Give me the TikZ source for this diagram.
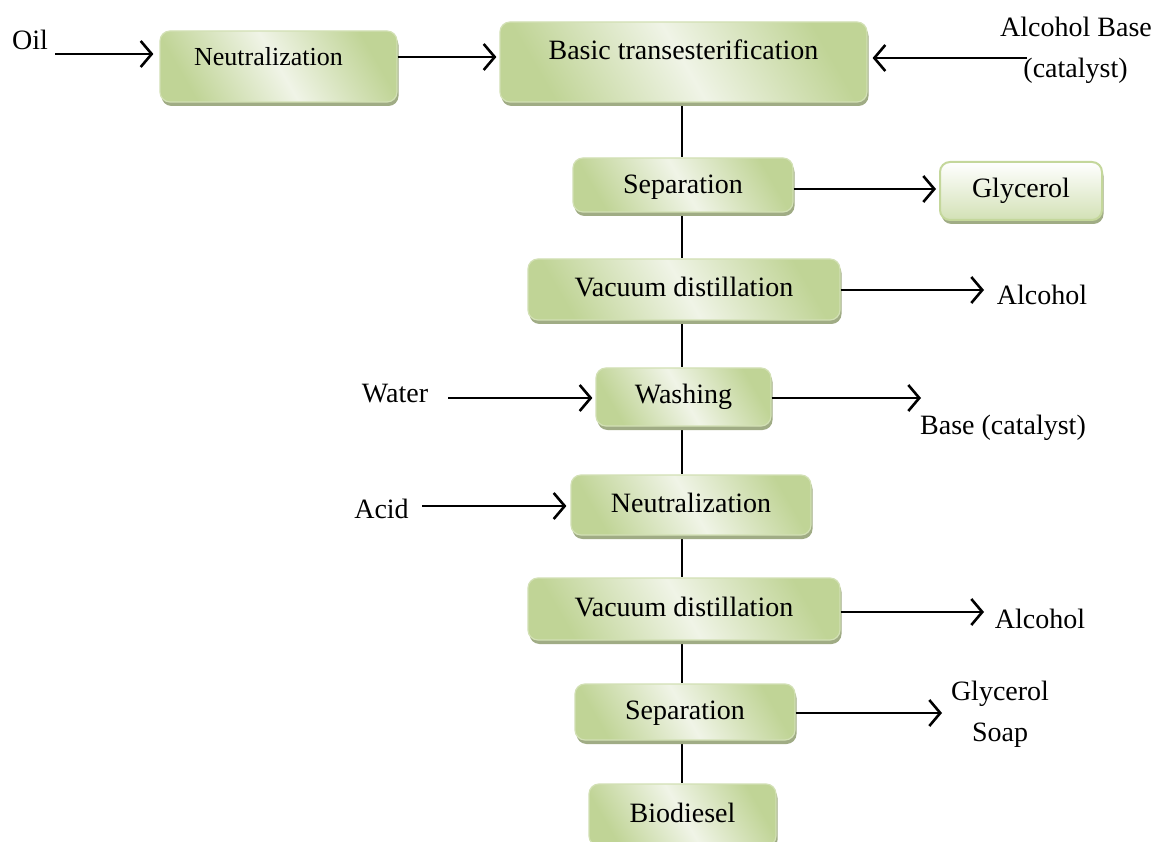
\documentclass[tikz,border=0pt]{standalone}
\usepackage{fontspec}
\setmainfont{Liberation Serif}
\usetikzlibrary{shadows,arrows.meta,backgrounds}
\definecolor{gdark}{RGB}{192,212,150}
\definecolor{glight}{RGB}{240,244,231}
\definecolor{gborder}{RGB}{210,224,180}
\definecolor{gshadow}{RGB}{160,172,133}
\definecolor{gboxline}{RGB}{196,215,155}
\tikzset{
  stepbox/.style={draw=gborder, line width=1.2pt, rounded corners=10pt,
    left color=gdark, right color=gdark, middle color=glight, shading angle=120,
    drop shadow={shadow xshift=1.5pt, shadow yshift=-4pt, fill=gshadow, opacity=1},
    font=\fontsize{28}{32}\selectfont, inner sep=0pt, text height=20pt, text depth=6pt},
  outbox/.style={draw=gboxline, line width=2pt, rounded corners=10pt,
    top color=white, bottom color=gdark!70!white,
    drop shadow={shadow xshift=1.5pt, shadow yshift=-4pt, fill=gshadow, opacity=1},
    font=\fontsize{28}{32}\selectfont, inner sep=0pt, text height=20pt, text depth=6pt},
  lbl/.style={font=\fontsize{28}{32}\selectfont, inner sep=0pt, text height=18.5pt, text depth=0pt},
  arr/.style={line width=2.6pt, -{Straight Barb[length=11pt,width=26pt,line width=2.6pt]}, shorten >=3pt},
  spineline/.style={line width=1.8pt},
}
\begin{document}
\begin{tikzpicture}[x=1pt,y=-1pt]
\clip (0,0) rectangle (1152,842);

% process boxes
\node[stepbox, minimum width=237pt, minimum height=71pt, font=\fontsize{26}{30}\selectfont, text height=18.5pt, text depth=20.3pt] (n1) at (278.5,66.5) {Neutralization\hspace*{20pt}};
\node[stepbox, minimum width=367pt, minimum height=80pt, text height=20pt, text depth=25.4pt] (bt) at (683.5,62) {Basic transesterification};
\node[stepbox, minimum width=220pt, minimum height=54pt, text depth=3pt] (sep1) at (683,185) {Separation};
\node[outbox, minimum width=162pt, minimum height=58pt] (gly) at (1021,191) {Glycerol};
\node[stepbox, minimum width=312pt, minimum height=61pt] (vd1) at (684,289.5) {Vacuum distillation};
\node[stepbox, minimum width=175pt, minimum height=58pt] (wash) at (683.5,397) {Washing};
\node[stepbox, minimum width=240pt, minimum height=60pt] (n2) at (691,505) {Neutralization};
\node[stepbox, minimum width=312pt, minimum height=62pt] (vd2) at (684,609) {Vacuum distillation};
\node[stepbox, minimum width=220pt, minimum height=56pt] (sep2) at (685,712) {Separation};
\node[stepbox, minimum width=187pt, minimum height=62pt] (bio) at (682.5,815) {Biodiesel};

% free labels
\node[lbl] (oil) at (30,40) {Oil};
\node[lbl] (ab1) at (1076,27) {Alcohol Base};
\node[lbl] (ab2) at (1075.5,68) {(catalyst)};
\node[lbl] (alc1) at (1042,295) {Alcohol};
\node[lbl] (water) at (395,393) {Water};
\node[lbl] (base) at (1003,425) {Base (catalyst)};
\node[lbl] (acid) at (381.5,509) {Acid};
\node[lbl] (alc2) at (1040,619) {Alcohol};
\node[lbl] (gs1) at (1000,691) {Glycerol};
\node[lbl] (gs2) at (1000,732) {Soap};

% free ends of connectors
\coordinate (sp) at (682,0);
\coordinate (oilS) at (55,54);
\coordinate (abS) at (1027,58);
\coordinate (waterS) at (448,398);
\coordinate (acidS) at (422,506);
\coordinate (a1E) at (984,290);
\coordinate (baseE) at (921,398);
\coordinate (a2E) at (984,612);
\coordinate (gsE) at (942,713);
\coordinate (y57) at (0,57);
\coordinate (y189) at (0,189);

% spine
\begin{scope}[on background layer]
\fill[white] (0,0) rectangle (1152,842);
\draw[spineline] (bt.south -| sp) -- (sep1.north -| sp);
\draw[spineline] (sep1.south -| sp) -- (vd1.north -| sp);
\draw[spineline] (vd1.south -| sp) -- (wash.north -| sp);
\draw[spineline] (wash.south -| sp) -- (n2.north -| sp);
\draw[spineline] (n2.south -| sp) -- (vd2.north -| sp);
\draw[spineline] (vd2.south -| sp) -- (sep2.north -| sp);
\draw[spineline] (sep2.south -| sp) -- (bio.north -| sp);
\end{scope}

% arrows
\draw[arr, shorten >=6pt] (oilS) -- (oilS -| n1.west);
\draw[arr] (n1.east |- y57) -- (bt.west |- y57);
\draw[arr, shorten >=5pt] (abS) -- (abS -| bt.east);
\draw[arr] (sep1.east |- y189) -- (gly.west |- y189);
\draw[arr, shorten >=0pt] (vd1.east |- a1E) -- (a1E);
\draw[arr] (waterS) -- (waterS -| wash.west);
\draw[arr, shorten >=0pt] (wash.east |- baseE) -- (baseE);
\draw[arr, shorten >=4pt] (acidS) -- (acidS -| n2.west);
\draw[arr, shorten >=0pt] (vd2.east |- a2E) -- (a2E);
\draw[arr, shorten >=0pt] (sep2.east |- gsE) -- (gsE);
\end{tikzpicture}
\end{document}
